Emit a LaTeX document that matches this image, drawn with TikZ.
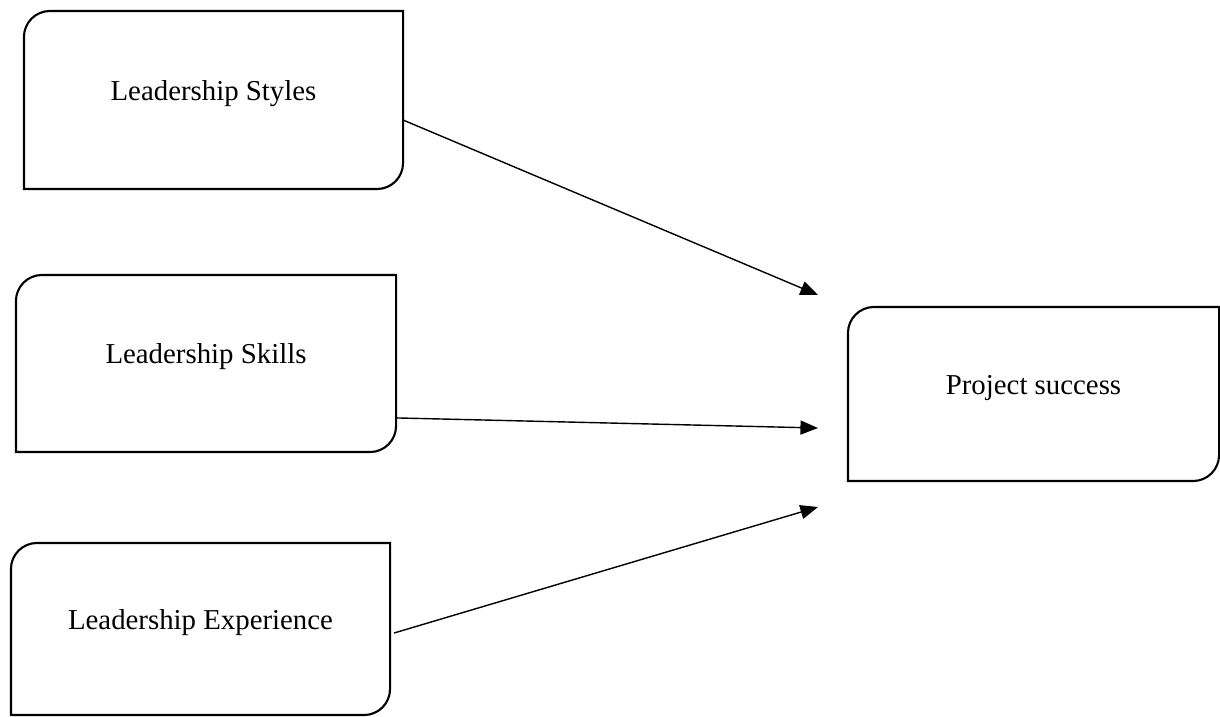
\documentclass[tikz,border=0pt]{standalone}
\usepackage{fontspec}
\setmainfont{Liberation Serif}
\usetikzlibrary{arrows.meta}

\tikzstyle{block}=[rectangle,
    inner sep=0pt,
    outer sep=0pt,
    text height=0.7em,
    text depth=0.7em,
    font=\fontsize{20.5}{24}\selectfont]
\tikzstyle{frame}=[line width=1.5pt]
\tikzstyle{link}=[line width=1pt,-{Triangle[length=12.5pt,width=10pt]}]

% box with round top-left and bottom-right corners
\newcommand{\halfround}[1]{%
    \draw[frame] (#1.north east) -- ([yshift=0.65cm]#1.south east)
        arc[start angle=0, end angle=-90, radius=0.65cm] -- (#1.south west)
        -- ([yshift=-0.65cm]#1.north west)
        arc[start angle=180, end angle=90, radius=0.65cm] -- cycle;}

\begin{document}
\begin{tikzpicture}[x=0.025cm,y=0.025cm]
    \useasboundingbox (0,0) rectangle (1220,-716);

    \node (styles) [block,minimum width=9.475cm,minimum height=4.45cm] at (213.5,-100) {Leadership Styles};
    \node (skills) [block,minimum width=9.5cm,minimum height=4.425cm] at (206,-363.5) {Leadership Skills};
    \node (experience) [block,minimum width=9.475cm,minimum height=4.3cm] at (200.5,-629) {Leadership Experience};
    \node (success) [block,minimum width=9.275cm,minimum height=4.35cm] at (1033.5,-394) {Project success};

    \halfround{styles}
    \halfround{skills}
    \halfround{experience}
    \halfround{success}

    \coordinate (ina) at (818,-295);
    \coordinate (inb) at (818,-428);
    \coordinate (inc) at (818,-507);

    \draw [link] ([yshift=-0.5cm]styles.east) -- (ina);
    \draw [link] ([yshift=-1.36cm]skills.east) -- (inb);
    \draw [link] ([xshift=0.1cm,yshift=-0.1cm]experience.east) -- (inc);
\end{tikzpicture}
\end{document}
